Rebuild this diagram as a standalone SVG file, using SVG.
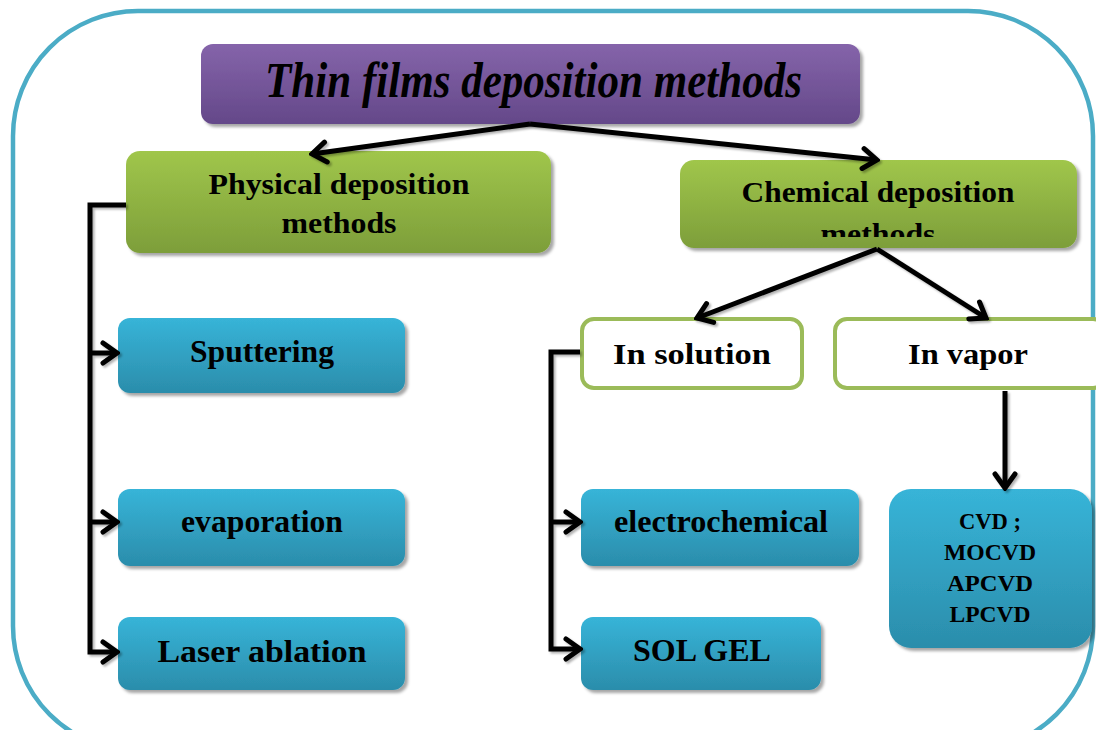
<svg xmlns="http://www.w3.org/2000/svg" width="1096" height="730" viewBox="0 0 1096 730">
  <defs>
    <linearGradient id="gPurple" x1="0" y1="0" x2="0" y2="1">
      <stop offset="0" stop-color="#8564AA"/>
      <stop offset="1" stop-color="#644889"/>
    </linearGradient>
    <linearGradient id="gGreen" x1="0" y1="0" x2="0" y2="1">
      <stop offset="0" stop-color="#A0C64B"/>
      <stop offset="1" stop-color="#7D9E3A"/>
    </linearGradient>
    <linearGradient id="gBlue" x1="0" y1="0" x2="0" y2="1">
      <stop offset="0" stop-color="#37B4D8"/>
      <stop offset="1" stop-color="#2B8DAB"/>
    </linearGradient>
    <filter id="shadow" x="-5%" y="-10%" width="115%" height="130%">
      <feDropShadow dx="3" dy="3" stdDeviation="1.5" flood-color="#000" flood-opacity="0.35"/>
    </filter>
    <filter id="lineShadow" x="-10%" y="-10%" width="120%" height="120%">
      <feDropShadow dx="2" dy="2" stdDeviation="1.2" flood-color="#000" flood-opacity="0.3"/>
    </filter>
    <marker id="arrow" viewBox="0 0 20 26" refX="17" refY="13" markerWidth="20" markerHeight="26" orient="auto" markerUnits="userSpaceOnUse">
      <path d="M3,3 L17,13 L3,23" fill="none" stroke="#000" stroke-width="5" stroke-linecap="round" stroke-linejoin="miter"/>
    </marker>
    <clipPath id="chemClip">
      <rect x="680" y="160" width="397" height="77"/>
    </clipPath>
  </defs>
  <style>
    .frame { fill: none; stroke: #4BACC6; stroke-width: 4.5; }
    .purple { fill: url(#gPurple); filter: url(#shadow); }
    .green { fill: url(#gGreen); filter: url(#shadow); }
    .blue { fill: url(#gBlue); filter: url(#shadow); }
    .outline { fill: #fff; stroke: #9BBB59; stroke-width: 4; }
    .title { font-family: "Liberation Serif", serif; font-weight: bold; font-style: italic; font-size: 50px; fill: #000; }
    .lbl { font-family: "Liberation Serif", serif; font-weight: bold; font-size: 31px; fill: #000; text-anchor: middle; }
    .cam { font-family: "Liberation Serif", serif; font-weight: bold; font-size: 30px; fill: #000; text-anchor: middle; }
    .small { font-family: "Liberation Serif", serif; font-weight: bold; font-size: 23px; fill: #000; text-anchor: middle; }
    .conn { fill: none; stroke: #000; stroke-width: 5; stroke-linejoin: miter; }
  </style>

  <!-- outer frame -->
  <rect class="frame" x="13" y="11" width="1080" height="740" rx="125" ry="125"/>

  <g id="title">
    <rect class="purple" x="201" y="44" width="659" height="80" rx="12"/>
    <text class="title" x="265" y="97" textLength="537" lengthAdjust="spacingAndGlyphs">Thin films deposition  methods</text>
  </g>

  <g id="physical">
    <rect class="green" x="126" y="151" width="425" height="102" rx="14"/>
    <text class="cam" x="339" y="194" textLength="261" lengthAdjust="spacingAndGlyphs">Physical deposition</text>
    <text class="cam" x="339" y="233" textLength="115" lengthAdjust="spacingAndGlyphs">methods</text>
  </g>

  <g id="chemical">
    <rect class="green" x="680" y="160" width="397" height="88" rx="14"/>
    <g clip-path="url(#chemClip)">
      <text class="cam" x="878" y="202" textLength="273" lengthAdjust="spacingAndGlyphs">Chemical deposition</text>
      <text class="cam" x="878" y="244" textLength="115" lengthAdjust="spacingAndGlyphs">methods</text>
    </g>
  </g>

  <g id="in-solution">
    <rect class="outline" x="582" y="319" width="220" height="69" rx="12"/>
    <text class="cam" x="692" y="364" textLength="158" lengthAdjust="spacingAndGlyphs">In solution</text>
  </g>

  <g id="in-vapor">
    <rect class="outline" x="835" y="319" width="270" height="69" rx="12"/>
    <text class="cam" x="968" y="364" textLength="120" lengthAdjust="spacingAndGlyphs">In vapor</text>
  </g>

  <g id="sputtering">
    <rect class="blue" x="118" y="318" width="287" height="75" rx="12"/>
    <text class="lbl" x="262" y="362" textLength="144" lengthAdjust="spacingAndGlyphs">Sputtering</text>
  </g>

  <g id="evaporation">
    <rect class="blue" x="118" y="489" width="287" height="77" rx="12"/>
    <text class="lbl" x="262" y="532" textLength="162" lengthAdjust="spacingAndGlyphs">evaporation</text>
  </g>

  <g id="laser-ablation">
    <rect class="blue" x="118" y="617" width="287" height="73" rx="12"/>
    <text class="lbl" x="262" y="662" textLength="209" lengthAdjust="spacingAndGlyphs">Laser ablation</text>
  </g>

  <g id="electrochemical">
    <rect class="blue" x="581" y="489" width="278" height="77" rx="12"/>
    <text class="lbl" x="721" y="532" textLength="214" lengthAdjust="spacingAndGlyphs">electrochemical</text>
  </g>

  <g id="sol-gel">
    <rect class="blue" x="581" y="617" width="240" height="73" rx="12"/>
    <text class="lbl" x="702" y="661" textLength="138" lengthAdjust="spacingAndGlyphs">SOL GEL</text>
  </g>

  <g id="cvd">
    <rect class="blue" x="889" y="489" width="203" height="159" rx="22"/>
    <text class="small" x="990" y="529" textLength="62" lengthAdjust="spacingAndGlyphs">CVD ;</text>
    <text class="small" x="990" y="560" textLength="92" lengthAdjust="spacingAndGlyphs">MOCVD</text>
    <text class="small" x="990" y="591" textLength="86" lengthAdjust="spacingAndGlyphs">APCVD</text>
    <text class="small" x="990" y="622" textLength="81" lengthAdjust="spacingAndGlyphs">LPCVD</text>
  </g>

  <!-- connectors, drawn over the boxes they touch -->
  <g id="connectors" filter="url(#lineShadow)">
    <path class="conn" d="M530,124 L312,154" marker-end="url(#arrow)"/>
    <path class="conn" d="M530,124 L877,160" marker-end="url(#arrow)"/>
    <path class="conn" d="M126,205 L90,205 L90,652 L117,652" marker-end="url(#arrow)"/>
    <path class="conn" d="M90,353 L117,353" marker-end="url(#arrow)"/>
    <path class="conn" d="M90,522 L117,522" marker-end="url(#arrow)"/>
    <path class="conn" d="M877,249 L697,318" marker-end="url(#arrow)"/>
    <path class="conn" d="M877,249 L986,318" marker-end="url(#arrow)"/>
    <path class="conn" d="M580,352 L551,352 L551,649 L580,649" marker-end="url(#arrow)"/>
    <path class="conn" d="M551,522 L580,522" marker-end="url(#arrow)"/>
    <path class="conn" d="M1005,391 L1005,488" marker-end="url(#arrow)"/>
  </g>
</svg>
